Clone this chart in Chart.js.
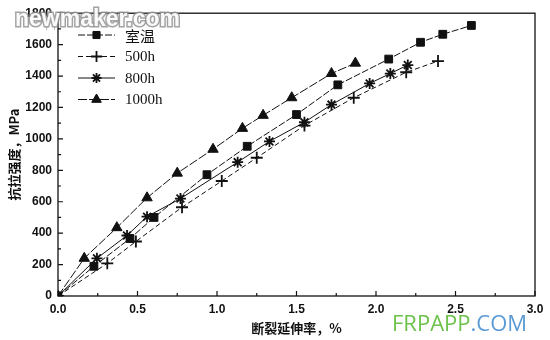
<!DOCTYPE html>
<html>
<head>
<meta charset="utf-8">
<script src="https://cdn.jsdelivr.net/npm/chart.js@4/dist/chart.umd.min.js"></script>
<style>
  html, body { margin: 0; padding: 0; background: #fff; }
  #wrap { width: 550px; height: 340px; }
</style>
</head>
<body>
<div id="wrap"><canvas id="chart" width="550" height="340"></canvas></div>
<script>
// values
const X_TICKS = [0, 0.5, 1.0, 1.5, 2.0, 2.5, 3.0];
const Y_TICKS = [0, 200, 400, 600, 800, 1000, 1200, 1400, 1600, 1800];

const SERIES_NAMES = ["室温", "500h", "800h", "1000h"];

const roomX = [0, 0.226, 0.453, 0.604, 0.937, 1.19, 1.50, 1.76, 2.08, 2.28, 2.42, 2.60];
const roomY = [0, 189, 366, 500, 772, 953, 1155, 1344, 1508, 1615, 1666, 1722];

const h500X = [0, 0.31, 0.49, 0.78, 1.03, 1.25, 1.55, 1.86, 2.19, 2.39];
const h500Y = [0, 208, 347, 565, 732, 880, 1085, 1262, 1424, 1495];

const h800X = [0, 0.245, 0.434, 0.56, 0.77, 1.13, 1.33, 1.55, 1.72, 1.96, 2.09, 2.20];
const h800Y = [0, 240, 385, 505, 620, 852, 984, 1106, 1218, 1353, 1416, 1470];

const h1000X = [0, 0.165, 0.37, 0.56, 0.75, 0.975, 1.16, 1.29, 1.47, 1.72, 1.87];
const h1000Y = [0, 240, 435, 625, 782, 934, 1067, 1150, 1262, 1416, 1482];

const X_TITLE = "断裂延伸率，%";
const Y_TITLE = "抗拉强度，MPa";

function pairs(xs, ys) {
  return xs.map((x, i) => ({ x, y: ys[i] }));
}

const STYLES = [
  { pointStyle: "rect", radius: 5.5, dash: [7, 2] },
  { pointStyle: "cross", radius: 6, dash: [5, 3] },
  { pointStyle: "star", radius: 5.5, dash: [] },
  { pointStyle: "triangle", radius: 6, dash: [9, 2] }
];

const datasets = [[roomX, roomY], [h500X, h500Y], [h800X, h800Y], [h1000X, h1000Y]].map(([xs, ys], i) => ({
  label: SERIES_NAMES[i],
  data: pairs(xs, ys),
  showLine: true,
  borderColor: "#111",
  backgroundColor: "#111",
  borderWidth: 1,
  borderDash: STYLES[i].dash,
  pointStyle: STYLES[i].pointStyle,
  pointRadius: STYLES[i].radius,
  pointBorderWidth: STYLES[i].pointStyle === "cross" || STYLES[i].pointStyle === "star" ? 1.8 : 1,
  pointBorderColor: "#111",
  pointBackgroundColor: "#111",
  tension: 0
}));

const framePlugin = {
  id: "frame",
  afterDraw(chart) {
    const { ctx, chartArea: a, scales } = chart;
    ctx.save();
    ctx.strokeStyle = "#111";
    ctx.lineWidth = 1.3;
    ctx.setLineDash([]);
    ctx.strokeRect(a.left, a.top, a.right - a.left, a.bottom - a.top);

    // inward ticks, major + minor
    ctx.lineWidth = 1.2;
    ctx.beginPath();
    for (let v = 0; v <= 3.0001; v += 0.25) {
      const px = scales.x.getPixelForValue(v);
      const len = Math.abs(v * 2 - Math.round(v * 2)) < 1e-6 ? 5 : 3;
      ctx.moveTo(px, a.bottom);
      ctx.lineTo(px, a.bottom - len);
    }
    for (let v = 0; v <= 1800; v += 100) {
      const py = scales.y.getPixelForValue(v);
      const len = v % 200 === 0 ? 5 : 3;
      ctx.moveTo(a.left, py);
      ctx.lineTo(a.left + len, py);
    }
    ctx.stroke();

    // axis titles
    ctx.fillStyle = "#111";
    ctx.font = "bold 13px 'Noto Sans CJK SC'";
    ctx.textAlign = "center";
    ctx.textBaseline = "middle";
    ctx.fillText(X_TITLE, (a.left + a.right) / 2, 328);
    ctx.save();
    ctx.translate(14, (a.top + a.bottom) / 2);
    ctx.rotate(-Math.PI / 2);
    ctx.fillText(Y_TITLE, 0, 0);
    ctx.restore();

    // legend inside the plot
    chart.data.datasets.forEach((ds, i) => {
      const y = 35 + i * 21.5;
      const x0 = 78, x1 = 115;
      ctx.save();
      ctx.strokeStyle = "#111";
      ctx.lineWidth = 1;
      ctx.setLineDash(ds.borderDash);
      ctx.beginPath();
      ctx.moveTo(x0, y);
      ctx.lineTo(x1, y);
      ctx.stroke();
      ctx.setLineDash([]);
      ctx.lineWidth = ds.pointBorderWidth;
      Chart.helpers.drawPoint(ctx, { pointStyle: ds.pointStyle, radius: ds.pointRadius - 0.5, rotation: 0, borderWidth: ds.pointBorderWidth }, (x0 + x1) / 2, y);
      ctx.fill();
      ctx.restore();
      ctx.fillStyle = "#111";
      ctx.textAlign = "left";
      ctx.textBaseline = "middle";
      ctx.font = i === 0 ? "15px 'Noto Sans CJK SC'" : "15px 'Liberation Serif'";
      ctx.fillText(ds.label, 125, y + 1);
    });

    // watermarks of the scanned source
    ctx.font = "bold 23px 'Liberation Sans'";
    ctx.textAlign = "left";
    ctx.textBaseline = "alphabetic";
    ctx.lineWidth = 3;
    ctx.strokeStyle = "rgba(140,140,140,0.8)";
    ctx.strokeText("newmaker.com", 15, 26);
    ctx.fillStyle = "rgba(255,255,255,0.95)";
    ctx.fillText("newmaker.com", 15, 26);

    ctx.font = "22px 'Open Sans'";
    ctx.fillStyle = "#6cc24a";
    ctx.fillText("FRPAPP", 392, 331);
    const w = ctx.measureText("FRPAPP").width;
    ctx.fillStyle = "#5b9bd5";
    ctx.fillText(".COM", 392 + w, 331);
    ctx.restore();
  }
};

new Chart(document.getElementById("chart"), {
  type: "scatter",
  data: { datasets },
  options: {
    responsive: false,
    animation: false,
    layout: { padding: { top: 10, right: 15, left: 0, bottom: 0 } },
    plugins: { legend: { display: false }, tooltip: { enabled: false } },
    scales: {
      x: {
        type: "linear",
        min: 0,
        max: 3,
        afterFit: scale => { scale.height = 44; },
        afterBuildTicks: scale => { scale.ticks = X_TICKS.map(value => ({ value })); },
        grid: { display: false, drawTicks: false },
        border: { display: false },
        ticks: {
          padding: 6,
          color: "#111",
          font: { family: "'Liberation Sans'", size: 12, weight: "bold" },
          callback: value => Number(value).toFixed(1)
        }
      },
      y: {
        type: "linear",
        min: 0,
        max: 1800,
        afterFit: scale => { scale.width = 58; },
        afterBuildTicks: scale => { scale.ticks = Y_TICKS.map(value => ({ value })); },
        grid: { display: false, drawTicks: false },
        border: { display: false },
        ticks: {
          padding: 6,
          color: "#111",
          font: { family: "'Liberation Sans'", size: 12, weight: "bold" },
          callback: value => String(value)
        }
      }
    }
  },
  plugins: [framePlugin]
});
</script>
</body>
</html>
